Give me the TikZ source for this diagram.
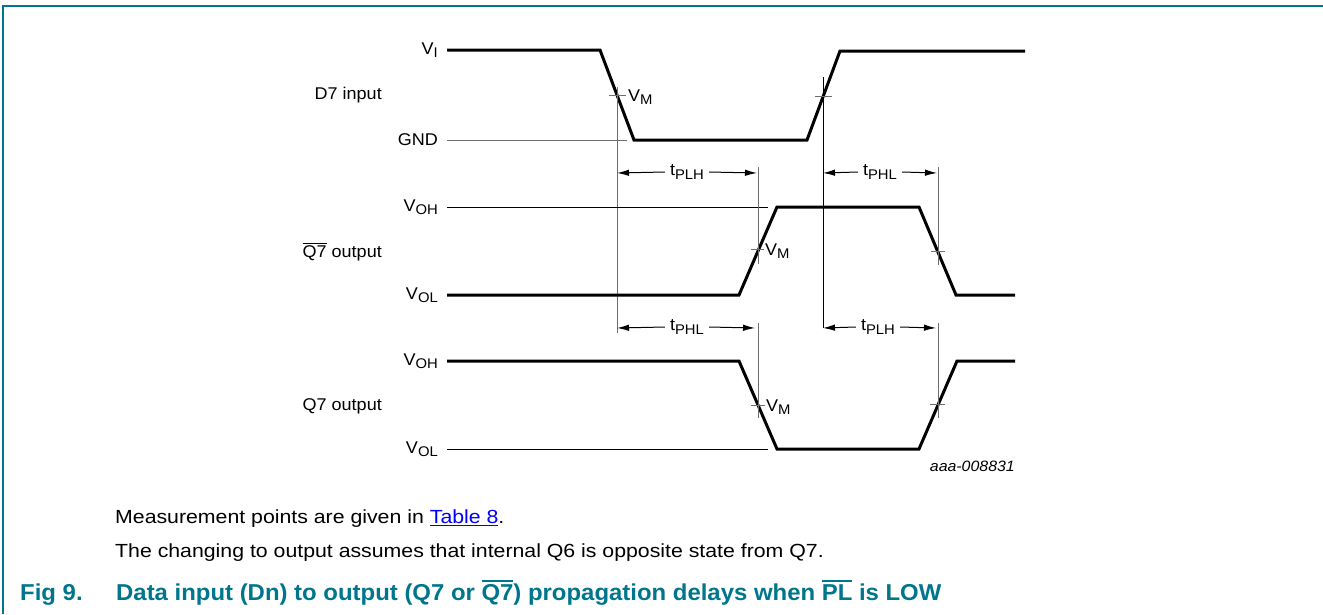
\documentclass[tikz,border=0pt]{standalone}
\usepackage{fontspec}
\setmainfont{Liberation Sans}
\newfontfamily\bodyfont[FakeStretch=1.12]{Liberation Sans}
\newfontfamily\capfont[FakeStretch=1.04]{Liberation Sans}
\newfontfamily\lblfont[FakeStretch=1.06]{Liberation Sans}
\usetikzlibrary{arrows.meta}
\definecolor{nxpteal}{RGB}{0,118,140}
\definecolor{guidegray}{RGB}{110,110,110}
\newcommand\sbs[1]{\raisebox{-0.35ex}{\fontsize{14}{14}\selectfont #1}}
\newcommand\ovl[2][1pt]{\leavevmode\vbox{\hrule height #1\kern 1.8pt\hbox{#2}}}
\newcommand\ulink[1]{\leavevmode\vtop{\hbox{#1}\kern1.6pt\hrule height 1.6pt}}
\tikzset{
  wave/.style={line width=3pt, line join=miter},
  thinline/.style={line width=1pt, black},
  guide/.style={line width=1pt, guidegray},
  tickmark/.style={line width=1pt, guidegray},
  dim/.style={line width=1pt, -{Latex[length=12pt,width=6.5pt]}},
  lbl/.style={font=\lblfont\fontsize{17}{17}\selectfont, inner sep=0pt},
  body/.style={font=\bodyfont\fontsize{19}{19}\selectfont, inner sep=0pt, anchor=base west},
  captext/.style={font=\capfont\fontsize{23}{23}\selectfont\bfseries, text=nxpteal, inner sep=0pt, anchor=base west}
}
\begin{document}
\begin{tikzpicture}[x=1pt,y=-1pt]
\useasboundingbox (0,0) rectangle (1323,614);
% frame
\draw[nxpteal, line width=2pt] (2.5,614) -- (2.5,6) -- (1323,6);

% ---- D7 input ----
\coordinate (d0) at (447,50);
\coordinate (d1) at (600,50);
\coordinate (d2) at (634,140);
\coordinate (d3) at (807,140);
\coordinate (d4) at (840,51);
\coordinate (d5) at (1025,51);
\draw[wave] (d0) -- (d1) -- (d2) -- (d3) -- (d4) -- (d5);
\coordinate (gnd0) at (447,140);
\coordinate (gnd1) at (627,140);
\draw[guide] (gnd0) -- (gnd1);
\node[lbl, anchor=east] (vi) at (438,50) {V\sbs{I}};
\node[lbl, anchor=east] (d7) at (382,95) {D7 input};
\node[lbl, anchor=east] (gnd) at (438,140) {GND};

% guides from D7
\coordinate (ga0) at (617,87);
\coordinate (ga1) at (617,333);
\draw[guide] (ga0) -- (ga1);
\coordinate (gb0) at (823,77);
\coordinate (gb1) at (823,328);
\draw[thinline] (gb0) -- (gb1);
\draw[tickmark] (609,95) -- (626,95);
\draw[tickmark] (815,96) -- (832,96);
\node[lbl, anchor=west] (vm1) at (628,97) {V\sbs{M}};

% ---- Q7bar output ----
\coordinate (qb0) at (447,295);
\coordinate (qb1) at (739,295);
\coordinate (qb2) at (777,207);
\coordinate (qb3) at (919,207);
\coordinate (qb4) at (956,295);
\coordinate (qb5) at (1015,295);
\draw[wave] (qb0) -- (qb1) -- (qb2) -- (qb3) -- (qb4) -- (qb5);
\coordinate (voh0) at (447,207);
\coordinate (voh1) at (768,207);
\draw[thinline] (voh0) -- (voh1);
\node[lbl, anchor=east] (voha) at (438,207) {V\sbs{OH}};
\node[lbl, anchor=east] (qbl) at (382,252) {\ovl{Q7} output};
\node[lbl, anchor=east] (vola) at (438,295) {V\sbs{OL}};
\coordinate (gc0) at (758,167);
\coordinate (gc1) at (758,264);
\draw[guide] (gc0) -- (gc1);
\coordinate (gd0) at (938,167);
\coordinate (gd1) at (938,265);
\draw[guide] (gd0) -- (gd1);
\draw[tickmark] (751,249) -- (764,249);
\draw[tickmark] (931,251) -- (945,251);
\node[lbl, anchor=west] (vm2) at (765,251) {V\sbs{M}};

% top dimension arrows
\node[lbl] (t1) at (687,172) {t\sbs{PLH}};
\draw[dim] (t1.west) ++(-5,0) -- (617,173);
\draw[dim] (t1.east) ++(5,0) -- (757,173);
\node[lbl] (t2) at (880,172) {t\sbs{PHL}};
\draw[dim] (t2.west) ++(-5,0) -- (823,173);
\draw[dim] (t2.east) ++(5,0) -- (937,173);

% ---- Q7 output ----
\coordinate (q0) at (447,361);
\coordinate (q1) at (739,361);
\coordinate (q2) at (777,449);
\coordinate (q3) at (919,449);
\coordinate (q4) at (957,361);
\coordinate (q5) at (1015,361);
\draw[wave] (q0) -- (q1) -- (q2) -- (q3) -- (q4) -- (q5);
\coordinate (vol0) at (447,449);
\coordinate (vol1) at (768,449);
\draw[thinline] (vol0) -- (vol1);
\node[lbl, anchor=east] (vohb) at (438,361) {V\sbs{OH}};
\node[lbl, anchor=east] (ql) at (382,406) {Q7 output};
\node[lbl, anchor=east] (volb) at (438,449) {V\sbs{OL}};
\coordinate (ge0) at (758,323);
\coordinate (ge1) at (758,418);
\draw[guide] (ge0) -- (ge1);
\coordinate (gf0) at (938,323);
\coordinate (gf1) at (938,418);
\draw[guide] (gf0) -- (gf1);
\draw[tickmark] (751,405) -- (765,405);
\draw[tickmark] (930,404) -- (945,404);
\node[lbl, anchor=west] (vm3) at (766,407) {V\sbs{M}};

% bottom dimension arrows
\node[lbl] (t3) at (687,327) {t\sbs{PHL}};
\draw[dim] (t3.west) ++(-5,0) -- (617,328);
\draw[dim] (t3.east) ++(5,0) -- (755,328);
\node[lbl] (t4) at (878,327) {t\sbs{PLH}};
\draw[dim] (t4.west) ++(-5,0) -- (823,328);
\draw[dim] (t4.east) ++(5,0) -- (936,328);

\node[font=\lblfont\fontsize{15}{15}\selectfont\itshape, inner sep=0pt, anchor=east] (id) at (1015,466) {aaa-008831};

% ---- text ----
\node[body] (m1) at (115,523) {Measurement points are given in \textcolor{blue}{\ulink{Table 8}}.};
\node[body] (m2) at (115,557) {The changing to output assumes that internal Q6 is opposite state from Q7.};
\node[captext] (f1) at (20,600) {Fig 9.};
\node[captext] (f2) at (116,600) {Data input (Dn) to output (Q7 or \ovl[2.5pt]{Q7}) propagation delays when \ovl[2.5pt]{PL} is LOW};
\end{tikzpicture}
\end{document}
